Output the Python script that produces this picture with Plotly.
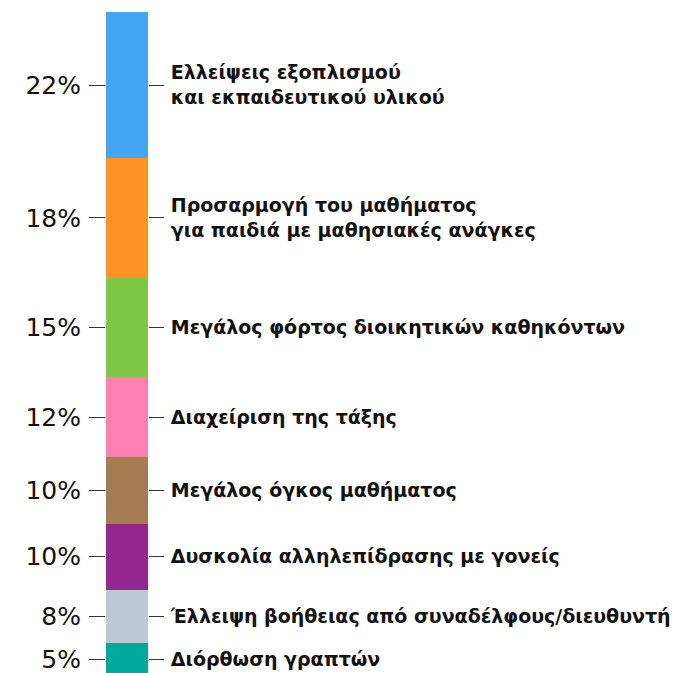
import plotly.graph_objects as go

# Data (top to bottom)
categories = [
    "Ελλείψεις εξοπλισμού<br>και εκπαιδευτικού υλικού",
    "Προσαρμογή του μαθήματος<br>για παιδιά με μαθησιακές ανάγκες",
    "Μεγάλος φόρτος διοικητικών καθηκόντων",
    "Διαχείριση της τάξης",
    "Μεγάλος όγκος μαθήματος",
    "Δυσκολία αλληλεπίδρασης με γονείς",
    "Έλλειψη βοήθειας από συναδέλφους/διευθυντή",
    "Διόρθωση γραπτών",
]
values = [22, 18, 15, 12, 10, 10, 8, 5]
pct_labels = ["22%", "18%", "15%", "12%", "10%", "10%", "8%", "5%"]
colors = ["#42A5F5", "#FF9224", "#7EC845", "#FF80B0", "#A67C52", "#93278F", "#BDC9D2", "#00A99D"]

# Stack from the bottom
order = list(range(len(values)))[::-1]
fig = go.Figure()
mids = []
cum = 0
for i in order:
    fig.add_trace(go.Bar(x=[0], y=[values[i]], marker=dict(color=colors[i], line=dict(width=0)),
                         showlegend=False, hoverinfo="skip"))
    mids.append(cum + values[i] / 2)
    cum += values[i]
tick_pct = [pct_labels[i] for i in order]
tick_cat = [categories[i] for i in order]

yr = [0.5, 100]
fig.update_layout(
    barmode="stack",
    bargap=0,
    width=677, height=665,
    margin=dict(l=98, r=537, t=4, b=0),
    plot_bgcolor="white", paper_bgcolor="white",
    xaxis=dict(range=[-0.5, 0.5], visible=False),
    yaxis=dict(range=yr, tickvals=mids, ticktext=tick_pct, ticks="outside", ticklen=16,
               tickcolor="#333", tickwidth=1, showgrid=False, zeroline=False, showline=False,
               ticklabelstandoff=3, ticklabeloverflow="allow",
               tickfont=dict(family="DejaVu Sans", size=25, color="#111")),
    yaxis2=dict(range=yr, overlaying="y", side="right", tickvals=mids, ticktext=tick_cat,
                ticks="outside", ticklen=15, tickcolor="#333", tickwidth=1, showgrid=False,
                zeroline=False, showline=False, ticklabelstandoff=3, ticklabeloverflow="allow",
                tickfont=dict(family="DejaVu Sans", size=19, color="#111", weight="bold")),
)
# invisible trace to activate yaxis2
fig.add_trace(go.Scatter(x=[0], y=[50], yaxis="y2", mode="markers", marker=dict(opacity=0),
                         showlegend=False, hoverinfo="skip"))
fig.write_html("out.html")
